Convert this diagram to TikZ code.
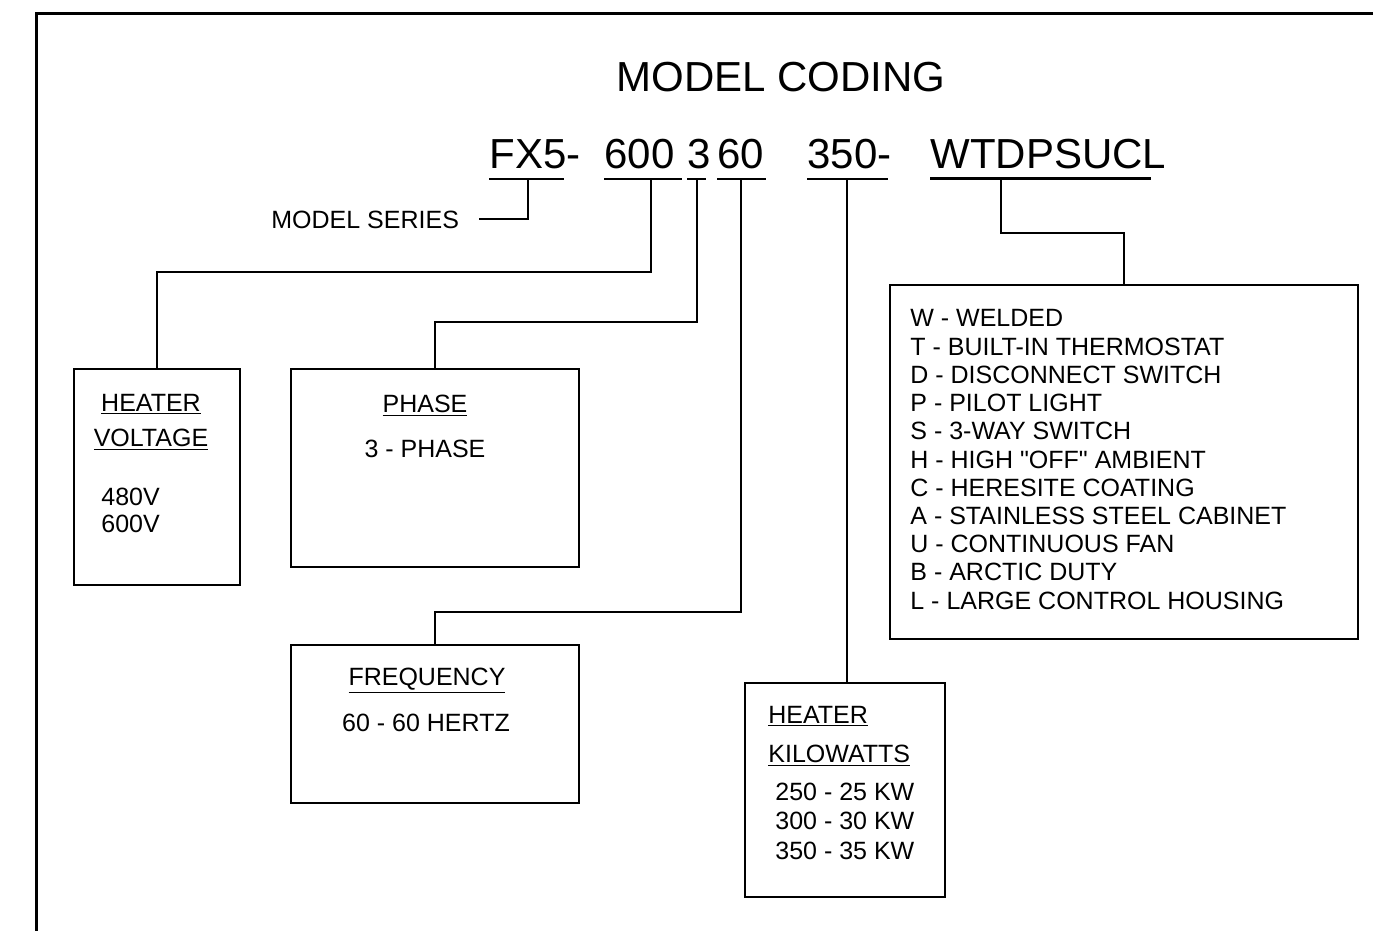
\documentclass[tikz,border=0pt]{standalone}
\usepackage{fontspec}
\newfontfamily\arialfont{Liberation Sans}
\usetikzlibrary{fit}

\begin{document}
\begin{tikzpicture}[x=0.5pt, y=-0.5pt,
    box/.style={draw, line width=1pt, inner sep=0pt},
    wire/.style={line width=0.7pt},
    txt/.style={inner sep=0pt, anchor=base west, font=\arialfont\fontsize{12.5}{15}\selectfont},
    head/.style={txt, anchor=base},
    code/.style={inner sep=0pt, anchor=base west, font=\arialfont\fontsize{21}{25}\selectfont}]
  \useasboundingbox (0,0) rectangle (1373,931);
  \draw[line width=1.5pt] (36.5,931) -- (36.5,13.5) -- (1373,13.5);

  \node[code, anchor=base] (title) at (781,92) {MODEL CODING};
  \node[code] (cFX) at (489,169) {FX5-};
  \node[code] (c600) at (604,169) {600};
  \node[code] (c3) at (687,169) {3};
  \node[code] (c60) at (717,169) {60};
  \node[code] (c350) at (807,169) {350-};
  \node[code] (cWT) at (930,169) {WTDPSUCL};
  \draw[wire] (489,179) -- (564,179);
  \draw[wire] (604,179) -- (682,179);
  \draw[wire] (687,179) -- (706,179);
  \draw[wire] (717,179) -- (766,179);
  \draw[wire] (807,179) -- (888,179);
  \draw[line width=1.5pt] (930,179) -- (1151,179);
  \coordinate (uFX) at (528,179);
  \coordinate (u600) at (651,179);
  \coordinate (u3) at (697,179);
  \coordinate (u60) at (741,179);
  \coordinate (u350) at (847,179);
  \coordinate (uWT) at (1001,179);

  \node[txt] (series) at (271,229) {MODEL SERIES};
  \coordinate (seriesEnd) at (479,219);

  \node[box, fit={(74,369) (240,585)}] (volt) {};
  \node[head] (voltA) at (151,411) {\underline{HEATER}};
  \node[head] (voltB) at (151,446) {\underline{VOLTAGE}};
  \node[txt] (v480) at (101,505) {480V};
  \node[txt] (v600) at (101,532) {600V};

  \node[box, fit={(291,369) (579,567)}] (phase) {};
  \node[head] (phaseA) at (425,412) {\underline{PHASE}};
  \node[head] (phaseB) at (425,457) {3 - PHASE};

  \node[box, fit={(291,645) (579,803)}] (freq) {};
  \node[head] (freqA) at (427,685) {\underline{FREQUENCY}};
  \node[head] (freqB) at (426,731) {60 - 60 HERTZ};

  \node[box, fit={(745,683) (945,897)}] (kw) {};
  \node[txt] (kwA) at (768,723) {\underline{HEATER}};
  \node[txt] (kwB) at (768,762) {\underline{KILOWATTS}};
  \foreach \t [count=\i from 0] in {250 - 25 KW, 300 - 30 KW, 350 - 35 KW}
    \node[txt] (kw\i) at (775,800+29.5*\i) {\t};

  \node[box, fit={(890,285) (1358,639)}] (opts) {};
  \foreach \t [count=\i from 0] in {W - WELDED, T - BUILT-IN THERMOSTAT,
      D - DISCONNECT SWITCH, P - PILOT LIGHT, S - 3-WAY SWITCH,
      H - HIGH "OFF" AMBIENT, C - HERESITE COATING, A - STAINLESS STEEL CABINET,
      U - CONTINUOUS FAN, B - ARCTIC DUTY, L - LARGE CONTROL HOUSING}
    \node[txt] (opt\i) at (910,327+28.2*\i) {\t};

  \draw[wire] (uFX) |- (seriesEnd);
  \draw[wire] (u600) -- ++(0,93) -| (volt.north);
  \draw[wire] (u3) -- ++(0,143) -| (phase.north);
  \draw[wire] (u60) -- ++(0,433) -| (freq.north);
  \draw[wire] (u350) -- (u350 |- kw.north);
  \draw[wire] (uWT) -- ++(0,54) -| (opts.north);
\end{tikzpicture}
\end{document}
